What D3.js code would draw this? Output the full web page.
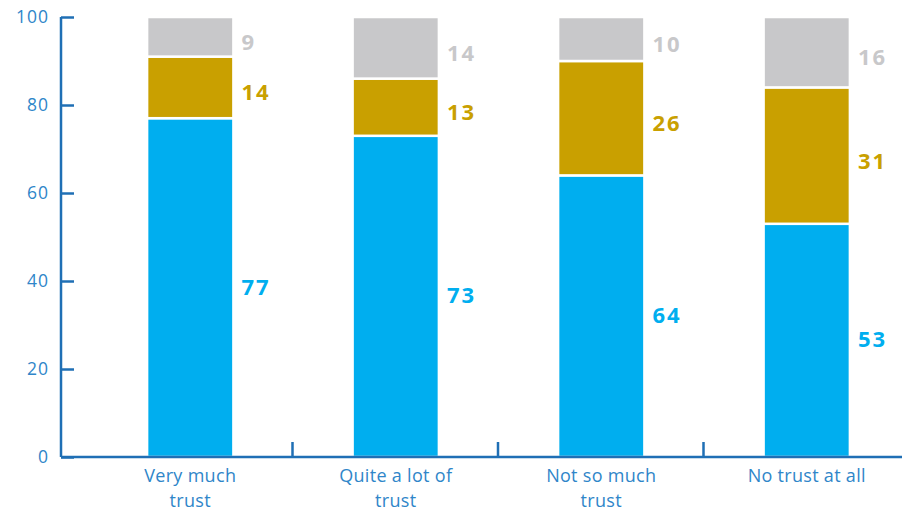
<!DOCTYPE html>
<html>
<head>
<meta charset="utf-8">
<script src="https://cdn.jsdelivr.net/npm/d3@7"></script>
<style>
  html, body { margin: 0; padding: 0; background: #ffffff; }
  svg { display: block; }
</style>
</head>
<body>
<svg id="chart" width="902" height="513"></svg>
<script>
// Trust categories and the stacked shares (percent) for each one
const categories = [["Very much", "trust"], ["Quite a lot of", "trust"], ["Not so much", "trust"], ["No trust at all"]];
const categoryKeys = ["Very much trust", "Quite a lot of trust", "Not so much trust", "No trust at all"];
const seriesBlue = [77, 73, 64, 53];
const seriesGold = [14, 13, 26, 31];
const seriesGrey = [9, 14, 10, 16];
const yTicks = [0, 20, 40, 60, 80, 100];

const seriesDefs = [
  { key: "blue", values: seriesBlue, fill: "#00aeef", label: "#00aeef" },
  { key: "gold", values: seriesGold, fill: "#c9a000", label: "#c9a000" },
  { key: "grey", values: seriesGrey, fill: "#c8c8ca", label: "#c8c8ca" }
];

const svg = d3.select("#chart");
const axisColor = "#1f6fb5";
const textColor = "#2f86c9";

const y = d3.scaleLinear().domain([0, 100]).range([457, 17]);
const x = d3.scaleBand().domain(categoryKeys).range([87.5, 909.5]).paddingInner(0.58).paddingOuter(0.29);

// Stack the three series per category
const rows = categoryKeys.map((k, i) => ({ cat: k, blue: seriesBlue[i], gold: seriesGold[i], grey: seriesGrey[i] }));
const stacked = d3.stack().keys(seriesDefs.map(d => d.key))(rows);

const fillOf = Object.fromEntries(seriesDefs.map(d => [d.key, d.fill]));
const labelOf = Object.fromEntries(seriesDefs.map(d => [d.key, d.label]));

const layers = svg.append("g").selectAll("g").data(stacked).join("g")
  .attr("fill", d => fillOf[d.key]);

layers.selectAll("rect").data(d => d.map(s => ({ s, key: d.key })))
  .join("rect")
  .attr("x", d => x(d.s.data.cat))
  .attr("width", x.bandwidth())
  .attr("y", d => y(d.s[1]))
  .attr("height", d => y(d.s[0]) - y(d.s[1]))
  .attr("stroke", "#ffffff")
  .attr("stroke-width", 2.5);

// Value labels to the right of each segment
layers.selectAll("text").data(d => d.map(s => ({ s, key: d.key })))
  .join("text")
  .attr("x", d => x(d.s.data.cat) + x.bandwidth() + 8)
  .attr("y", d => y((d.s[0] + d.s[1]) / 2) + (d.key === "blue" ? -2 : 4))
  .attr("dominant-baseline", "central")
  .attr("fill", d => labelOf[d.key])
  .style("font-family", "'Open Sans', sans-serif")
  .style("font-weight", "700")
  .style("font-size", "22px")
  .style("letter-spacing", "2px")
  .text(d => d.s[1] - d.s[0]);

// Y axis with inward ticks
const yAxis = svg.append("g").attr("transform", "translate(61,0)")
  .call(d3.axisRight(y).tickValues(yTicks).tickSize(13).tickFormat(d3.format("d")));
yAxis.select(".domain").attr("stroke", axisColor).attr("stroke-width", 2.5).attr("d", `M0,${y(100)}H0V${y(0)}`);
yAxis.selectAll(".tick line").attr("stroke", axisColor).attr("stroke-width", 2.5);
yAxis.selectAll(".tick text").attr("x", -12).attr("text-anchor", "end")
  .attr("fill", textColor)
  .style("font-family", "'Open Sans', sans-serif")
  .style("font-size", "17.5px")
  .style("letter-spacing", "1px");

// X axis baseline with category dividers
const xAxis = svg.append("g");
xAxis.append("line").attr("x1", 61).attr("x2", 902).attr("y1", y(0)).attr("y2", y(0))
  .attr("stroke", axisColor).attr("stroke-width", 2.5);
const step = x.step();
xAxis.selectAll("line.div").data(categoryKeys.slice(1)).join("line")
  .attr("class", "div")
  .attr("x1", d => x(d) - x.paddingInner() * step / 2 - 0.5)
  .attr("x2", d => x(d) - x.paddingInner() * step / 2 - 0.5)
  .attr("y1", y(0)).attr("y2", y(0) - 15)
  .attr("stroke", axisColor).attr("stroke-width", 2.5);

// Category labels
const catText = xAxis.selectAll("text.cat").data(categoryKeys).join("text")
  .attr("class", "cat")
  .attr("x", d => x(d) + x.bandwidth() / 2)
  .attr("y", 482)
  .attr("text-anchor", "middle")
  .attr("fill", textColor)
  .style("font-family", "'Open Sans', sans-serif")
  .style("font-size", "18px")
  .style("letter-spacing", "0.3px");
catText.each(function(d, i) {
  const t = d3.select(this);
  categories[i].forEach((line, j) => {
    t.append("tspan").attr("x", x(d) + x.bandwidth() / 2).attr("dy", j === 0 ? 0 : 24.5).text(line);
  });
});
</script>
</body>
</html>
